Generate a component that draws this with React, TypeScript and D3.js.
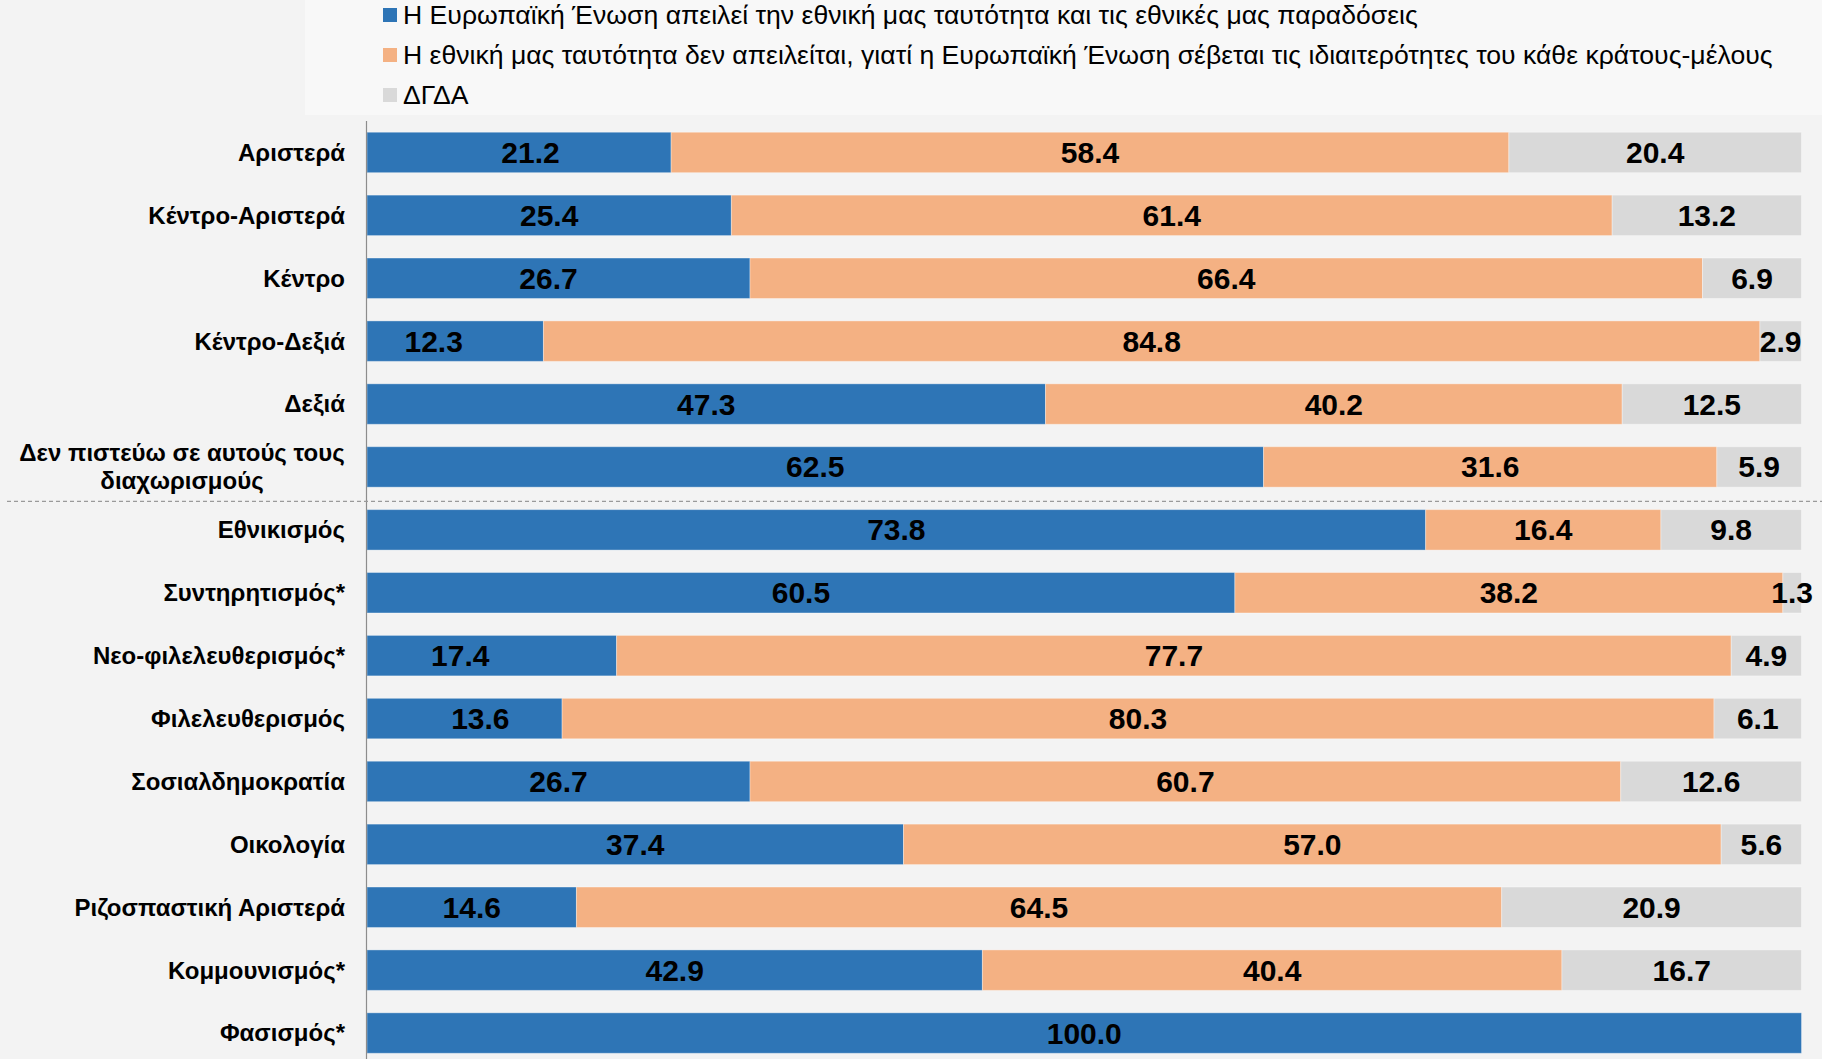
import React from "react";
import * as d3 from "d3";

const categories = [
  "Αριστερά",
  "Κέντρο-Αριστερά",
  "Κέντρο",
  "Κέντρο-Δεξιά",
  "Δεξιά",
  "Δεν πιστεύω σε αυτούς τους|διαχωρισμούς",
  "Εθνικισμός",
  "Συντηρητισμός*",
  "Νεο-φιλελευθερισμός*",
  "Φιλελευθερισμός",
  "Σοσιαλδημοκρατία",
  "Οικολογία",
  "Ριζοσπαστική Αριστερά",
  "Κομμουνισμός*",
  "Φασισμός*",
];

const threatens = [21.2, 25.4, 26.7, 12.3, 47.3, 62.5, 73.8, 60.5, 17.4, 13.6, 26.7, 37.4, 14.6, 42.9, 100.0];
const notThreatened = [58.4, 61.4, 66.4, 84.8, 40.2, 31.6, 16.4, 38.2, 77.7, 80.3, 60.7, 57.0, 64.5, 40.4, 0];
const dkna = [20.4, 13.2, 6.9, 2.9, 12.5, 5.9, 9.8, 1.3, 4.9, 6.1, 12.6, 5.6, 20.9, 16.7, 0];

// label nudges of the first series' value labels, in percentage points (as placed in the original)
const threatensLabelShift = [0.8, 0, -0.7, -1.5, 0, 0, 0, 0, -2.2, 1.1, 0, 0, 0, 0, 0];

const seriesNames = [
  "Η Ευρωπαϊκή Ένωση απειλεί την εθνική μας ταυτότητα και τις εθνικές μας παραδόσεις",
  "Η εθνική μας ταυτότητα δεν απειλείται, γιατί η Ευρωπαϊκή Ένωση σέβεται τις ιδιαιτερότητες του κάθε κράτους-μέλους",
  "ΔΓΔΑ",
];
const seriesColors = ["#2e75b6", "#f4b183", "#d9d9d9"];

const W = 1822;
const H = 1059;

export default function App() {
  const x = d3.scaleLinear().domain([0, 100]).range([367, 1801.5]);
  const y = d3
    .scaleBand<number>()
    .domain(d3.range(categories.length))
    .range([121, 121 + 62.9 * categories.length])
    .paddingInner(0.357)
    .paddingOuter(0.357 / 2);

  const series = [threatens, notThreatened, dkna];
  const rows = categories.map((c, i) => {
    const vals = series.map((s) => s[i]);
    let acc = 0;
    const segs = vals.map((v, k) => {
      const s = { k, v, x0: acc, x1: acc + v };
      acc += v;
      return s;
    });
    return { c, i, segs };
  });

  const bw = y.bandwidth();
  const sepY = (y(5)! + bw + y(6)!) / 2 + 3;
  const font = "'Liberation Sans', Arial, Helvetica, sans-serif";

  return (
    <svg
      width={W}
      height={H}
      style={{ position: "absolute", left: 0, top: 0, display: "block" }}
      fontFamily={font}
    >
      <rect x={0} y={0} width={W} height={H} fill="#f3f3f3" />
      <rect x={305} y={0} width={W - 305} height={115} fill="#f8f8f8" />

      {/* legend */}
      {seriesNames.map((n, k) => (
        <g key={k} transform={`translate(383, ${15 + 40 * k})`}>
          <rect x={0} y={-7} width={14} height={14} fill={seriesColors[k]} />
          <text x={20} dy="0.35em" fontSize={26.6} fill="#000">
            {n}
          </text>
        </g>
      ))}

      {/* bars */}
      {rows.map((r) => (
        <g key={r.i}>
          {r.segs.map((s) =>
            s.v > 0 ? (
              <rect
                key={s.k}
                x={x(s.x0)}
                y={y(r.i)}
                width={x(s.x1) - x(s.x0)}
                height={bw}
                fill={seriesColors[s.k]}
                stroke="#ffffff"
                strokeOpacity={0.35}
                strokeWidth={1}
              />
            ) : null
          )}
          {r.segs.map((s) =>
            s.v > 0 ? (
              <text
                key={"t" + s.k}
                x={x((s.x0 + s.x1) / 2 + (s.k === 0 ? threatensLabelShift[r.i] : 0))}
                y={y(r.i)! + bw / 2}
                dy="0.35em"
                textAnchor="middle"
                fontSize={30}
                fontWeight="bold"
                fill="#000"
              >
                {s.v.toFixed(1)}
              </text>
            ) : null
          )}
          {r.c.includes("|") ? (
            r.c.split("|").map((line, li, arr) => (
              <text
                key={"c" + li}
                x={182}
                y={y(r.i)! + bw / 2 + (li - (arr.length - 1) / 2) * 28}
                dy="0.35em"
                textAnchor="middle"
                fontSize={24}
                fontWeight="bold"
                fill="#000"
              >
                {line}
              </text>
            ))
          ) : (
            <text
              x={345}
              y={y(r.i)! + bw / 2}
              dy="0.35em"
              textAnchor="end"
              fontSize={24}
              fontWeight="bold"
              fill="#000"
            >
              {r.c}
            </text>
          )}
        </g>
      ))}

      {/* axis line */}
      <line x1={366.5} x2={366.5} y1={121} y2={H} stroke="#8c8c8c" strokeWidth={1.2} />

      {/* separator */}
      <line x1={7} x2={W} y1={sepY} y2={sepY} stroke="#9a9a9a" strokeWidth={1.3} strokeDasharray="4 3" />
    </svg>
  );
}
